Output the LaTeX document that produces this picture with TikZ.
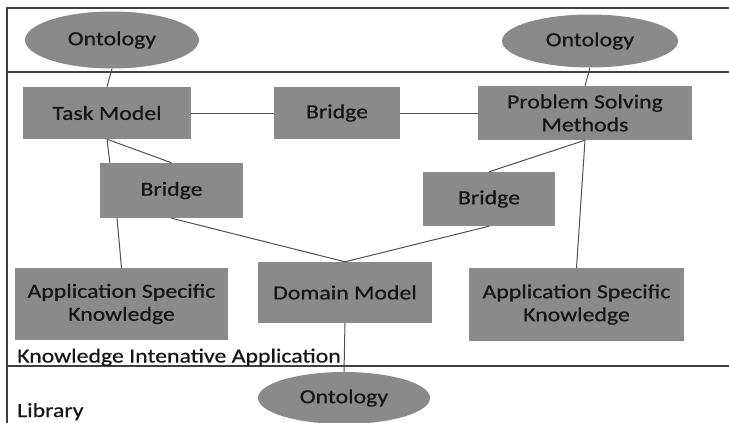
\documentclass[tikz,border=0pt]{standalone}
\usepackage{fontspec}
\setmainfont[FakeStretch=1.19,FakeBold=0.6]{Carlito}
\usetikzlibrary{shapes.geometric,calc}
\definecolor{boxgray}{HTML}{8A8A8A}
\definecolor{inkgray}{HTML}{161616}
\definecolor{linegray}{HTML}{505050}
\tikzset{
  block/.style={rectangle,fill=boxgray,text=inkgray,align=center,inner sep=0pt,
    font=\fontsize{20}{23}\selectfont},
  onto/.style={ellipse,fill=boxgray,text=inkgray,inner sep=0pt,
    font=\fontsize{20}{23}\selectfont},
  link/.style={draw=linegray,line width=1pt},
  frame/.style={draw=linegray!80!black,line width=1.2pt},
  label/.style={anchor=base west,inner sep=0pt,text=inkgray,font=\fontsize{20}{23}\selectfont}
}
\begin{document}
\begin{tikzpicture}[x=1pt,y=-1pt]
\useasboundingbox (0,0) rectangle (729,423);
% layer borders
\coordinate (ftl) at (7,8);
\coordinate (ftr) at (729,8);
\coordinate (fbl) at (7,423);
\coordinate (m1l) at (7,72);
\coordinate (m1r) at (729,72);
\coordinate (m2l) at (7,366);
\coordinate (m2r) at (729,366);
\draw[frame] (ftr) -- (ftl) -- (fbl);
\draw[frame] (m1l) -- (m1r);
\draw[frame] (m2l) -- (m2r);

% ontologies
\node[onto,minimum width=174,minimum height=57] (o1) at (112,40) {Ontology};
\node[onto,minimum width=176,minimum height=53] (o2) at (590,41) {Ontology};
\node[onto,minimum width=172,minimum height=52] (o3) at (344,398) {Ontology};

% components
\node[block,minimum width=168,minimum height=52] (tm) at (107,113) {Task Model};
\node[block,minimum width=126,minimum height=52] (bt) at (337,113) {Bridge};
\node[block,minimum width=214,minimum height=54] (psm) at (585,113) {Problem Solving\\Methods};
\node[block,minimum width=143,minimum height=55] (bl) at (171.5,190.5) {Bridge};
\node[block,minimum width=132,minimum height=54] (br) at (489,199) {Bridge};
\node[block,minimum width=213,minimum height=72] (askl) at (121.5,304) {Application Specific\\Knowledge};
\node[block,minimum width=174,minimum height=61] (dm) at (345,292.5) {Domain Model};
\node[block,minimum width=215,minimum height=73] (askr) at (576.5,304.5) {Application Specific\\Knowledge};

% layer captions
\node[label] (kia) at (17,362.5) {Knowledge Intenative Application};
\node[label] (lib) at (17,417) {Library};

% connectors
\draw[link] (o1.south) -- (tm.north);
\draw[link] (tm.east) -- (bt.west);
\draw[link] (bt.east) -- (psm.west);
\draw[link] (o2.south) -- (psm.north);
\draw[link] (tm.south) -- ($(bl.north west)!0.07!(bl.north east)$);
\draw[link] (tm.south) -- (bl.north);
\draw[link] ($(bl.south west)!0.12!(bl.south east)$) -- (askl.north);
\draw[link] (bl.south) -- (dm.north);
\draw[link] (br.south) -- (dm.north);
\draw[link] (psm.south) -- (br.north);
\draw[link] (psm.south) -- (askr.north);
\draw[link] (dm.south) -- (o3.north);
\end{tikzpicture}
\end{document}
